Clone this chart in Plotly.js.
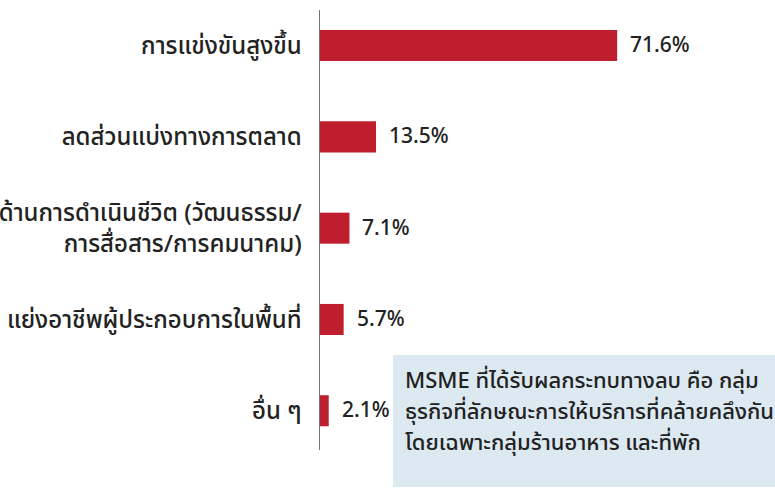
<!DOCTYPE html>
<html>
<head>
<meta charset="utf-8">
<script src="https://cdn.plot.ly/plotly-3.0.1.min.js"></script>
<style>html,body{margin:0;padding:0;background:#fff;}#chart{width:775px;height:488px;}</style>
</head>
<body>
<div id="chart"></div>
<script>
const categories = [
  "การแข่งขันสูงขึ้น",
  "ลดส่วนแบ่งทางการตลาด",
  "ด้านการดำเนินชีวิต (วัฒนธรรม/<br>การสื่อสาร/การคมนาคม)",
  "แย่งอาชีพผู้ประกอบการในพื้นที่",
  "อื่น ๆ"
];
const values = [71.6, 13.5, 7.1, 5.7, 2.1];
const valueLabels = ["71.6%", "13.5%", "7.1%", "5.7%", "2.1%"];
const noteLines = [
  "MSME ที่ได้รับผลกระทบทางลบ คือ กลุ่ม",
  "ธุรกิจที่ลักษณะการให้บริการที่คล้ายคลึงกัน",
  "โดยเฉพาะกลุ่มร้านอาหาร และที่พัก"
];

const FONT = "Noto Sans Thai, Noto Sans, sans-serif";

const trace = {
  type: "bar",
  orientation: "h",
  y: categories,
  x: values,
  marker: {color: "#be1e2d"},
  width: 0.34,
  hoverinfo: "none"
};

const annotations = values.map((v, i) => ({
  x: v, y: categories[i], xref: "x", yref: "y",
  text: valueLabels[i], showarrow: false,
  xanchor: "left", yanchor: "middle", xshift: 11,
  font: {family: FONT, size: 21, color: "#222", weight: 500}
}));

const noteY = [381, 412, 443];
noteLines.forEach((t, i) => {
  annotations.push({
    x: (403 - 320) / 415, y: (450 - noteY[i]) / 440,
    xref: "paper", yref: "paper",
    text: t, showarrow: false, xanchor: "left", yanchor: "middle",
    font: {family: FONT, size: 22, color: "#222", weight: 500}
  });
});

const layout = {
  width: 775, height: 488,
  margin: {l: 320, r: 40, t: 10, b: 38},
  paper_bgcolor: "#fff", plot_bgcolor: "#fff",
  showlegend: false,
  xaxis: {range: [0, 100], visible: false, fixedrange: true},
  yaxis: {
    type: "category",
    range: [4.43, -0.39],
    showline: true, linecolor: "#777", linewidth: 1.5,
    showgrid: false, zeroline: false,
    ticks: "", ticklabelstandoff: 12,
    tickfont: {family: FONT, size: 24, color: "#222", weight: 500},
    fixedrange: true
  },
  shapes: [{
    type: "rect", xref: "paper", yref: "paper",
    x0: (393 - 320) / 415, x1: (780 - 320) / 415,
    y0: (450 - 487) / 440, y1: (450 - 355) / 440,
    fillcolor: "#dde9f1", line: {width: 0}, layer: "below"
  }],
  annotations: annotations
};

Plotly.newPlot("chart", [trace], layout, {displayModeBar: false, staticPlot: true});
</script>
</body>
</html>
